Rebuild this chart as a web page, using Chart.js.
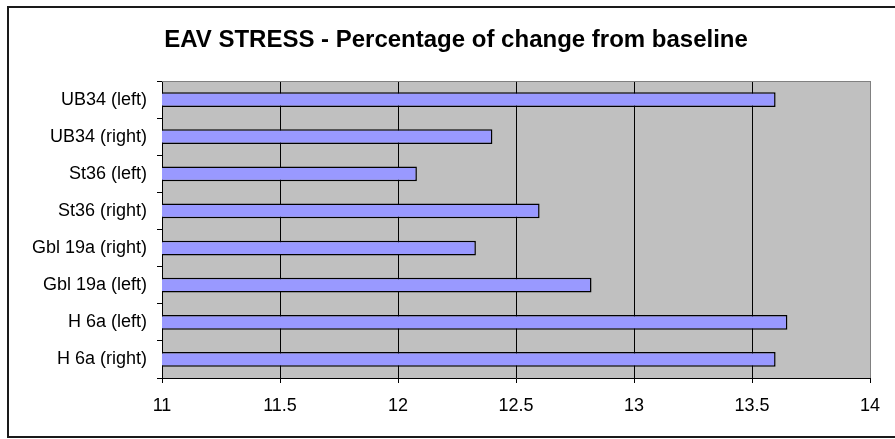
<!DOCTYPE html>
<html>
<head>
<meta charset="utf-8">
<script src="https://cdn.jsdelivr.net/npm/chart.js@4"></script>
<style>
  html, body { margin: 0; padding: 0; background: #ffffff; }
  #wrap { width: 895px; height: 439px; position: relative; }
</style>
</head>
<body>
<div id="wrap"><canvas id="chart" width="895" height="439"></canvas></div>
<script>
// Measurement sites (top to bottom)
const sites = [
  'UB34 (left)', 'UB34 (right)', 'St36 (left)', 'St36 (right)',
  'Gbl 19a (right)', 'Gbl 19a (left)', 'H 6a (left)', 'H 6a (right)'
];
// Percentage of change from baseline
const changeValues = [13.6, 12.4, 12.08, 12.6, 12.33, 12.82, 13.65, 13.6];
// Value axis range and step
const axisMin = 11;
const axisMax = 14;
const axisStep = 0.5;
const chartTitle = 'EAV STRESS - Percentage of change from baseline';

const FONT = "'Liberation Sans', Arial, sans-serif";

// Plot-area background, grey frame edges, outer border and title
const framePlugin = {
  id: 'frame',
  beforeDraw(chart) {
    const { ctx, chartArea: a } = chart;
    ctx.save();
    ctx.fillStyle = '#ffffff';
    ctx.fillRect(0, 0, chart.width, chart.height);
    ctx.fillStyle = '#c0c0c0';
    ctx.fillRect(a.left, a.top, a.right - a.left, a.bottom - a.top);
    // outer chart border
    ctx.strokeStyle = '#1a1a1a';
    ctx.lineWidth = 2;
    ctx.strokeRect(8, 7, chart.width + 20, 430);
    ctx.restore();
  },
  beforeDatasetsDraw(chart) {
    const { ctx, chartArea: a } = chart;
    ctx.save();
    ctx.strokeStyle = '#808080';
    ctx.lineWidth = 1;
    ctx.beginPath();
    ctx.moveTo(a.left, a.top + 0.5);
    ctx.lineTo(a.right + 0.5, a.top + 0.5);
    ctx.stroke();
    ctx.restore();
  },
  afterDraw(chart) {
    const { ctx } = chart;
    ctx.save();
    ctx.fillStyle = '#000000';
    ctx.font = 'bold 24px ' + FONT;
    ctx.textAlign = 'center';
    ctx.textBaseline = 'middle';
    ctx.fillText(chartTitle, 456, 40);
    ctx.restore();
  }
};

new Chart(document.getElementById('chart'), {
  type: 'bar',
  data: {
    labels: sites,
    datasets: [{
      data: changeValues,
      backgroundColor: '#9999ff',
      borderColor: '#000000',
      borderWidth: 1.5,
      borderSkipped: false,
      barPercentage: 0.4,
      categoryPercentage: 1.0
    }]
  },
  options: {
    indexAxis: 'y',
    responsive: false,
    animation: false,
    events: [],
    layout: { padding: { left: 0, right: 25, top: 81, bottom: 0 } },
    plugins: {
      legend: { display: false },
      title: { display: false },
      tooltip: { enabled: false }
    },
    scales: {
      x: {
        type: 'linear',
        min: axisMin,
        max: axisMax,
        afterFit(scale) { scale.height = 61; },
        border: { display: true, color: '#000000', width: 1 },
        grid: {
          color(ctx) { return ctx.tick && ctx.tick.value === axisMax ? '#808080' : '#000000'; },
          lineWidth: 1,
          drawTicks: true,
          tickLength: 5,
          tickColor: '#000000'
        },
        ticks: {
          stepSize: axisStep,
          color: '#000000',
          padding: 12,
          font: { family: FONT, size: 18 },
          callback(v) { return String(v); }
        }
      },
      y: {
        afterFit(scale) { scale.width = 162; },
        border: { display: true, color: '#000000', width: 1 },
        grid: {
          offset: true,
          drawOnChartArea: false,
          drawTicks: true,
          tickLength: 5,
          color: '#000000'
        },
        ticks: {
          color: '#000000',
          padding: 10,
          font: { family: FONT, size: 18 }
        }
      }
    }
  },
  plugins: [framePlugin]
});
</script>
</body>
</html>
